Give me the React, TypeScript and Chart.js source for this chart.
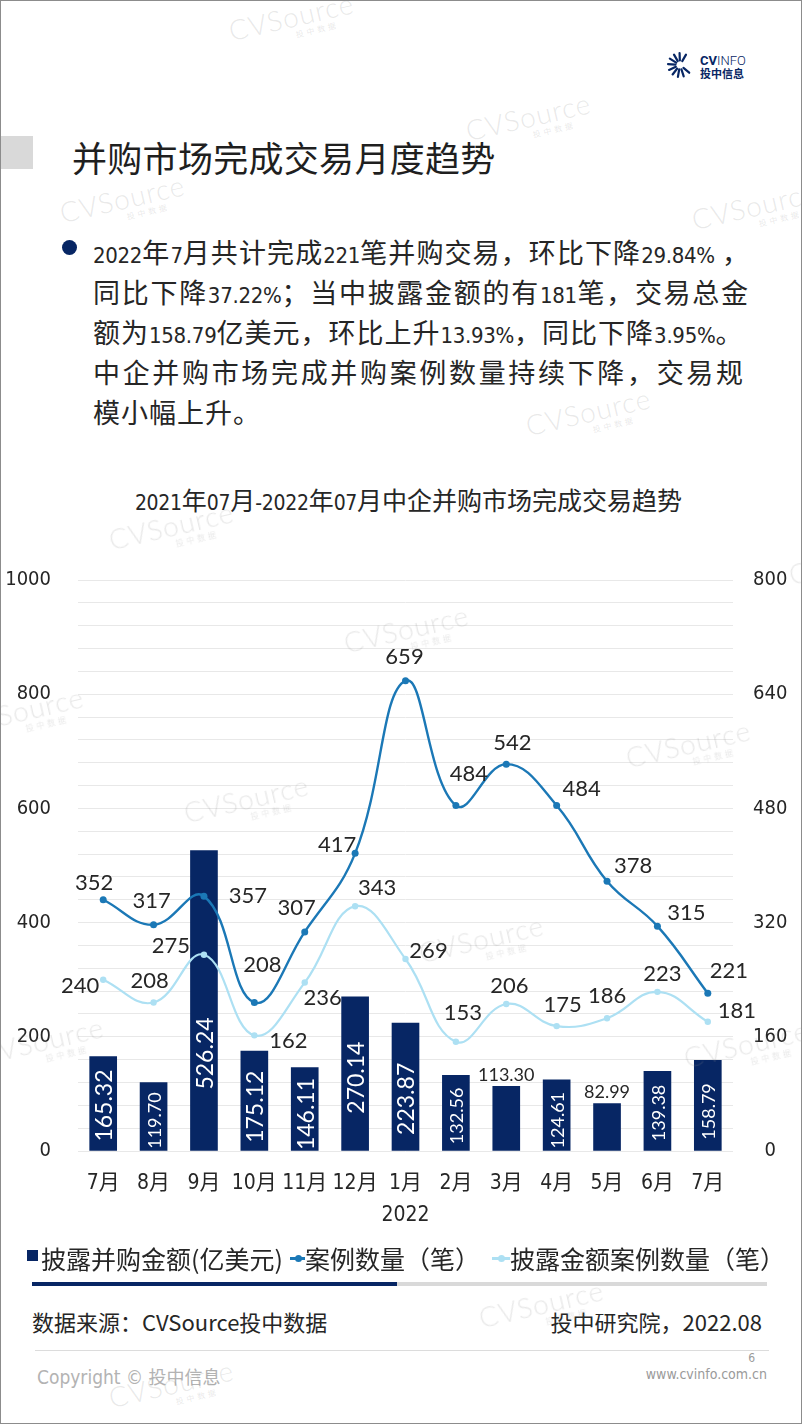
import React, { useEffect, useRef } from 'react';
import { Chart, registerables } from 'chart.js';

Chart.register(...registerables);

// ---------- data ----------
const CATEGORIES: (string | string[])[] = ['7月', '8月', '9月', '10月', '11月', '12月', ['1月', '2022'], '2月', '3月', '4月', '5月', '6月', '7月'];
const DEAL_AMOUNT = [165.32, 119.7, 526.24, 175.12, 146.11, 270.14, 223.87, 132.56, 113.3, 124.61, 82.99, 139.38, 158.79];
const DEAL_COUNT = [352, 317, 357, 208, 307, 417, 659, 484, 542, 484, 378, 315, 221];
const DISCLOSED_COUNT = [240, 208, 275, 162, 236, 343, 269, 153, 206, 175, 186, 223, 181];
const LEFT_TICKS = [0, 200, 400, 600, 800, 1000];
const RIGHT_TICKS = [0, 160, 320, 480, 640, 800];
const LEFT_MAX = 1000;
const RIGHT_MAX = 800;
const GRID_STEP = 40;

// ---------- label placement (style) ----------
const COUNT_LABEL_OFFSET: [number, number][] = [[-9, -17], [-2, -24], [44, 0], [8, -38], [-8, -24], [-18, -8], [-1, -24], [13, -32], [6, -21], [25, -17], [26, -15], [29, -13], [21, -22]];
const DISCLOSED_LABEL_OFFSET: [number, number][] = [[-23, 6], [-4, -22], [-33, -9], [34, 6], [18, 15], [22, -18], [23, -8], [7, -29], [3, -18], [6, -21], [0, -22], [5, -18], [29, -11]];
const BAR_LABEL_INSIDE = [true, true, true, true, true, true, true, true, false, true, false, true, true];
const BAR_LABEL_SIZE = [23, 18, 23, 23, 23, 23, 23, 18, 18, 18, 18, 18, 18];
const BAR_LABEL_SHIFT = [2, 4, 53, 6, 5, 4, 12, 3, 0, 5, 0, 2, 6];

const NAVY = '#072664';
const DARK = '#1b78b6';
const LIGHT = '#ade0f3';
const TEXT = '#262626';
const NARROW = "'Liberation Sans Narrow', 'DejaVu Sans Condensed', 'Noto Sans CJK SC', sans-serif";
const CJK = "'Noto Sans CJK SC', sans-serif";

const labelPlugin = {
  id: 'valueLabels',
  afterDatasetsDraw(chart: any) {
    const ctx: CanvasRenderingContext2D = chart.ctx;
    ctx.save();
    const barMeta = chart.getDatasetMeta(0);
    barMeta.data.forEach((el: any, i: number) => {
      const p = el.getProps(['x', 'y', 'base'], true);
      const text = DEAL_AMOUNT[i].toFixed(2);
      ctx.font = `${BAR_LABEL_SIZE[i]}px Lato`;
      ctx.textAlign = 'center';
      ctx.textBaseline = 'middle';
      if (BAR_LABEL_INSIDE[i]) {
        ctx.save();
        ctx.translate(p.x, (p.y + p.base) / 2 + BAR_LABEL_SHIFT[i]);
        ctx.rotate(-Math.PI / 2);
        ctx.fillStyle = '#ffffff';
        ctx.fillText(text, 0, 1.5);
        ctx.restore();
      } else {
        ctx.fillStyle = TEXT;
        ctx.fillText(text, p.x, p.y - 11);
      }
    });
    const lineSets: [number, number[], [number, number][]][] = [
      [1, DEAL_COUNT, COUNT_LABEL_OFFSET],
      [2, DISCLOSED_COUNT, DISCLOSED_LABEL_OFFSET],
    ];
    ctx.font = '22px Lato';
    ctx.fillStyle = TEXT;
    ctx.textAlign = 'center';
    ctx.textBaseline = 'middle';
    lineSets.forEach(([idx, values, offs]) => {
      const meta = chart.getDatasetMeta(idx);
      meta.data.forEach((el: any, i: number) => {
        const p = el.getProps(['x', 'y'], true);
        ctx.fillText(String(values[i]), p.x + offs[i][0], p.y + offs[i][1]);
      });
    });
    ctx.restore();
  },
};

function Mixed({ text, cjkSize, numSize, cjkSpacing = 0 }: { text: string; cjkSize: number; numSize: number; cjkSpacing?: number }) {
  const parts = text.split(/([0-9.%\-]+)/);
  return (
    <>
      {parts.map((p, i) =>
        p === '' ? null : /^[0-9.%\-]+$/.test(p) ? (
          <span key={i} style={{ fontFamily: NARROW, fontSize: numSize, letterSpacing: -0.3 }}>{p}</span>
        ) : (
          <span key={i} style={{ fontFamily: CJK, fontSize: cjkSize, letterSpacing: cjkSpacing }}>{p}</span>
        )
      )}
    </>
  );
}

const BULLET_LINES: [string, number | null][] = [
  ['2022年7月共计完成221笔并购交易，环比下降29.84% ，', 657],
  ['同比下降37.22%；当中披露金额的有181笔，交易总金', 656],
  ['额为158.79亿美元，环比上升13.93%，同比下降3.95%。', 646],
  ['中企并购市场完成并购案例数量持续下降，交易规', 651],
  ['模小幅上升。', null],
];

const WATERMARKS: [number, number][] = [
  [225, 16], [462, 116], [56, 198], [688, 205], [522, 411], [105, 525], [340, 628],
  [-45, 710], [180, 798], [622, 743], [415, 938], [-25, 1040], [680, 1043], [475, 1303], [105, 1383], [785, 560],
];

function Watermark({ x, y }: { x: number; y: number }) {
  return (
    <div style={{ position: 'absolute', left: x, top: y, width: 130, height: 40, transform: 'rotate(-13deg)', transformOrigin: 'left top', pointerEvents: 'none', color: 'rgba(140,140,140,0.2)' }}>
      <div style={{ fontFamily: 'Lato', fontWeight: 300, fontSize: 28, lineHeight: '28px', letterSpacing: 1, whiteSpace: 'nowrap' }}>CVSource</div>
      <div style={{ position: 'absolute', left: 64, top: 27, fontFamily: CJK, fontSize: 8, letterSpacing: 3, whiteSpace: 'nowrap' }}>投中数据</div>
    </div>
  );
}

function Logo() {
  const angles = [40, 72, 100, 128, 156, 184, 212, 240, 268, 300];
  return (
    <>
      <svg style={{ position: 'absolute', left: 665, top: 50 }} width={26} height={28} viewBox="0 0 26 28">
        {angles.map((a, i) => {
          const r = (a * Math.PI) / 180;
          const cx = 14, cy = 14;
          return (
            <line key={i} x1={cx + Math.cos(r) * 4.5} y1={cy + Math.sin(r) * 4.5} x2={cx + Math.cos(r) * 12} y2={cy + Math.sin(r) * 12} stroke={NAVY} strokeWidth={2.2} strokeLinecap="round" />
          );
        })}
      </svg>
      <div style={{ position: 'absolute', left: 699, top: 52, fontFamily: 'Roboto, sans-serif', fontSize: 13, lineHeight: '16px', color: NAVY, whiteSpace: 'nowrap' }}>
        <span style={{ fontWeight: 700 }}>CV</span>
        <span style={{ fontWeight: 300 }}>INFO</span>
      </div>
      <div style={{ position: 'absolute', left: 699, top: 66, fontFamily: CJK, fontSize: 11, fontWeight: 700, lineHeight: '13px', color: NAVY, whiteSpace: 'nowrap' }}>投中信息</div>
    </>
  );
}

export default function App() {
  const canvasRef = useRef<HTMLCanvasElement | null>(null);

  useEffect(() => {
    document.body.style.margin = '0';
    const canvas = canvasRef.current;
    if (!canvas) return;
    const gridValues: number[] = [];
    for (let v = 0; v <= LEFT_MAX; v += GRID_STEP) gridValues.push(v);

    const chart = new Chart(canvas, {
      type: 'bar',
      data: {
        labels: CATEGORIES as any,
        datasets: [
          {
            type: 'bar',
            label: '披露并购金额(亿美元)',
            data: DEAL_AMOUNT,
            backgroundColor: NAVY,
            yAxisID: 'y',
            order: 3,
            barThickness: 27,
          } as any,
          {
            type: 'line',
            label: '案例数量（笔）',
            data: DEAL_COUNT,
            yAxisID: 'y1',
            borderColor: DARK,
            backgroundColor: DARK,
            borderWidth: 2.4,
            pointRadius: 3.5,
            pointBorderWidth: 0,
            pointBackgroundColor: DARK,
            tension: 0.42,
            order: 1,
          } as any,
          {
            type: 'line',
            label: '披露金额案例数量（笔）',
            data: DISCLOSED_COUNT,
            yAxisID: 'y1',
            borderColor: LIGHT,
            backgroundColor: LIGHT,
            borderWidth: 2.2,
            pointRadius: 3.2,
            pointBorderWidth: 0,
            pointBackgroundColor: LIGHT,
            tension: 0.42,
            order: 2,
          } as any,
        ],
      },
      options: {
        responsive: false,
        animation: false,
        devicePixelRatio: 1,
        layout: { padding: { top: 33, left: 0, right: 0, bottom: 0 } },
        plugins: {
          legend: { display: false },
          tooltip: { enabled: false },
          title: { display: false },
        },
        scales: {
          x: {
            offset: true,
            grid: { display: false, drawTicks: false },
            border: { display: false },
            ticks: {
              color: TEXT,
              font: { family: NARROW, size: 21, lineHeight: 1.5 },
              padding: 17,
              maxRotation: 0,
              autoSkip: false,
            },
            afterFit: (s: any) => { s.height = 90; },
          },
          y: {
            position: 'left',
            min: 0,
            max: LEFT_MAX,
            grid: { color: '#e8e8e8', lineWidth: 1, drawTicks: false },
            border: { display: false },
            ticks: {
              autoSkip: false,
              padding: 27,
              color: TEXT,
              font: { family: NARROW, size: 20 },
              callback: (v: any) => (LEFT_TICKS.includes(Number(v)) ? String(v) : ''),
            },
            afterBuildTicks: (s: any) => { s.ticks = gridValues.map((v) => ({ value: v })); },
            afterFit: (s: any) => { s.width = 77; },
          },
          y1: {
            position: 'right',
            min: 0,
            max: RIGHT_MAX,
            grid: { display: false, drawTicks: false },
            border: { display: false },
            ticks: {
              autoSkip: false,
              padding: 20,
              crossAlign: 'center',
              color: TEXT,
              font: { family: NARROW, size: 20 },
              callback: (v: any) => String(v),
            },
            afterBuildTicks: (s: any) => { s.ticks = RIGHT_TICKS.map((v) => ({ value: v })); },
            afterFit: (s: any) => { s.width = 70; },
          },
        },
      } as any,
      plugins: [labelPlugin],
    });
    return () => chart.destroy();
  }, []);

  return (
    <div style={{ position: 'relative', width: 802, height: 1424, overflow: 'hidden', background: '#fff', boxSizing: 'border-box', border: '1px solid #8c8c8c' }}>
      <style>{'body{margin:0}'}</style>
      <Logo />
      {/* section title */}
      <div style={{ position: 'absolute', left: 0, top: 135, width: 32, height: 33, background: '#d9d9d9' }} />
      <div style={{ position: 'absolute', left: 71, top: 131, fontFamily: CJK, fontSize: 35, lineHeight: '50px', letterSpacing: 0.3, color: '#1f1f1f', whiteSpace: 'nowrap' }}>
        并购市场完成交易月度趋势
      </div>
      {/* bullet */}
      <div style={{ position: 'absolute', left: 61, top: 239, width: 15, height: 15, borderRadius: '50%', background: NAVY }} />
      {BULLET_LINES.map(([line, w], i) => (
        <div
          key={i}
          style={{
            position: 'absolute',
            left: 92,
            top: 231 + i * 40,
            width: w ?? undefined,
            height: 40,
            lineHeight: '40px',
            whiteSpace: 'nowrap',
            color: TEXT,
            textAlign: w ? 'justify' : 'left',
            textAlignLast: w ? 'justify' : 'left',
          } as React.CSSProperties}
        >
          <Mixed text={line} cjkSize={27} numSize={22} cjkSpacing={1} />
        </div>
      ))}
      {/* chart title */}
      <div style={{ position: 'absolute', left: 0, top: 481, width: 815, textAlign: 'center', lineHeight: '34px', color: TEXT, whiteSpace: 'nowrap' }}>
        <Mixed text="2021年07月-2022年07月中企并购市场完成交易趋势" cjkSize={25} numSize={21} />
      </div>
      {/* chart */}
      <canvas ref={canvasRef} width={802} height={700} style={{ position: 'absolute', left: 0, top: 540, width: 802, height: 700 }} />
      {/* legend */}
      <div style={{ position: 'absolute', left: 26, top: 1249, width: 11, height: 11, background: NAVY }} />
      <div style={{ position: 'absolute', left: 40, top: 1242, fontFamily: CJK, fontSize: 25, lineHeight: '30px', color: TEXT, whiteSpace: 'nowrap' }}>披露并购金额(亿美元)</div>
      <div style={{ position: 'absolute', left: 289, top: 1256, width: 15, height: 2.5, background: DARK }} />
      <div style={{ position: 'absolute', left: 294, top: 1254, width: 7, height: 7, borderRadius: '50%', background: DARK }} />
      <div style={{ position: 'absolute', left: 304, top: 1242, fontFamily: CJK, fontSize: 25, lineHeight: '30px', color: TEXT, whiteSpace: 'nowrap' }}>案例数量（笔）</div>
      <div style={{ position: 'absolute', left: 491, top: 1256, width: 18, height: 2.5, background: LIGHT }} />
      <div style={{ position: 'absolute', left: 497, top: 1254, width: 7, height: 7, borderRadius: '50%', background: LIGHT }} />
      <div style={{ position: 'absolute', left: 509, top: 1242, fontFamily: CJK, fontSize: 25, lineHeight: '30px', color: TEXT, whiteSpace: 'nowrap' }}>披露金额案例数量（笔）</div>
      {/* progress bar */}
      <div style={{ position: 'absolute', left: 31, top: 1281, width: 365, height: 4, background: NAVY }} />
      <div style={{ position: 'absolute', left: 396, top: 1281, width: 370, height: 4, background: '#d9d9d9' }} />
      {/* source */}
      <div style={{ position: 'absolute', left: 31, top: 1305, fontFamily: CJK, fontSize: 22, lineHeight: '30px', color: TEXT, whiteSpace: 'nowrap' }}>数据来源：CVSource投中数据</div>
      <div style={{ position: 'absolute', right: 802 - 763, top: 1305, fontFamily: CJK, fontSize: 22, lineHeight: '30px', color: TEXT, whiteSpace: 'nowrap' }}>投中研究院，2022.08</div>
      {/* footer */}
      <div style={{ position: 'absolute', left: 34, top: 1349, width: 734, height: 1, background: '#dcdcdc' }} />
      <div style={{ position: 'absolute', right: 802 - 756, top: 1349, fontFamily: NARROW, fontSize: 12, lineHeight: '16px', color: '#9a9a9a' }}>6</div>
      <div style={{ position: 'absolute', right: 802 - 768, top: 1365, fontFamily: NARROW, fontSize: 14, lineHeight: '16px', color: '#9a9a9a', whiteSpace: 'nowrap' }}>www.cvinfo.com.cn</div>
      <div style={{ position: 'absolute', left: 36, top: 1362, lineHeight: '26px', color: '#b3b3b3', whiteSpace: 'nowrap' }}>
        <span style={{ fontFamily: NARROW, fontSize: 19 }}>Copyright © </span>
        <span style={{ fontFamily: CJK, fontSize: 18 }}>投中信息</span>
      </div>
      {WATERMARKS.map(([x, y], i) => (
        <Watermark key={i} x={x} y={y} />
      ))}
    </div>
  );
}
